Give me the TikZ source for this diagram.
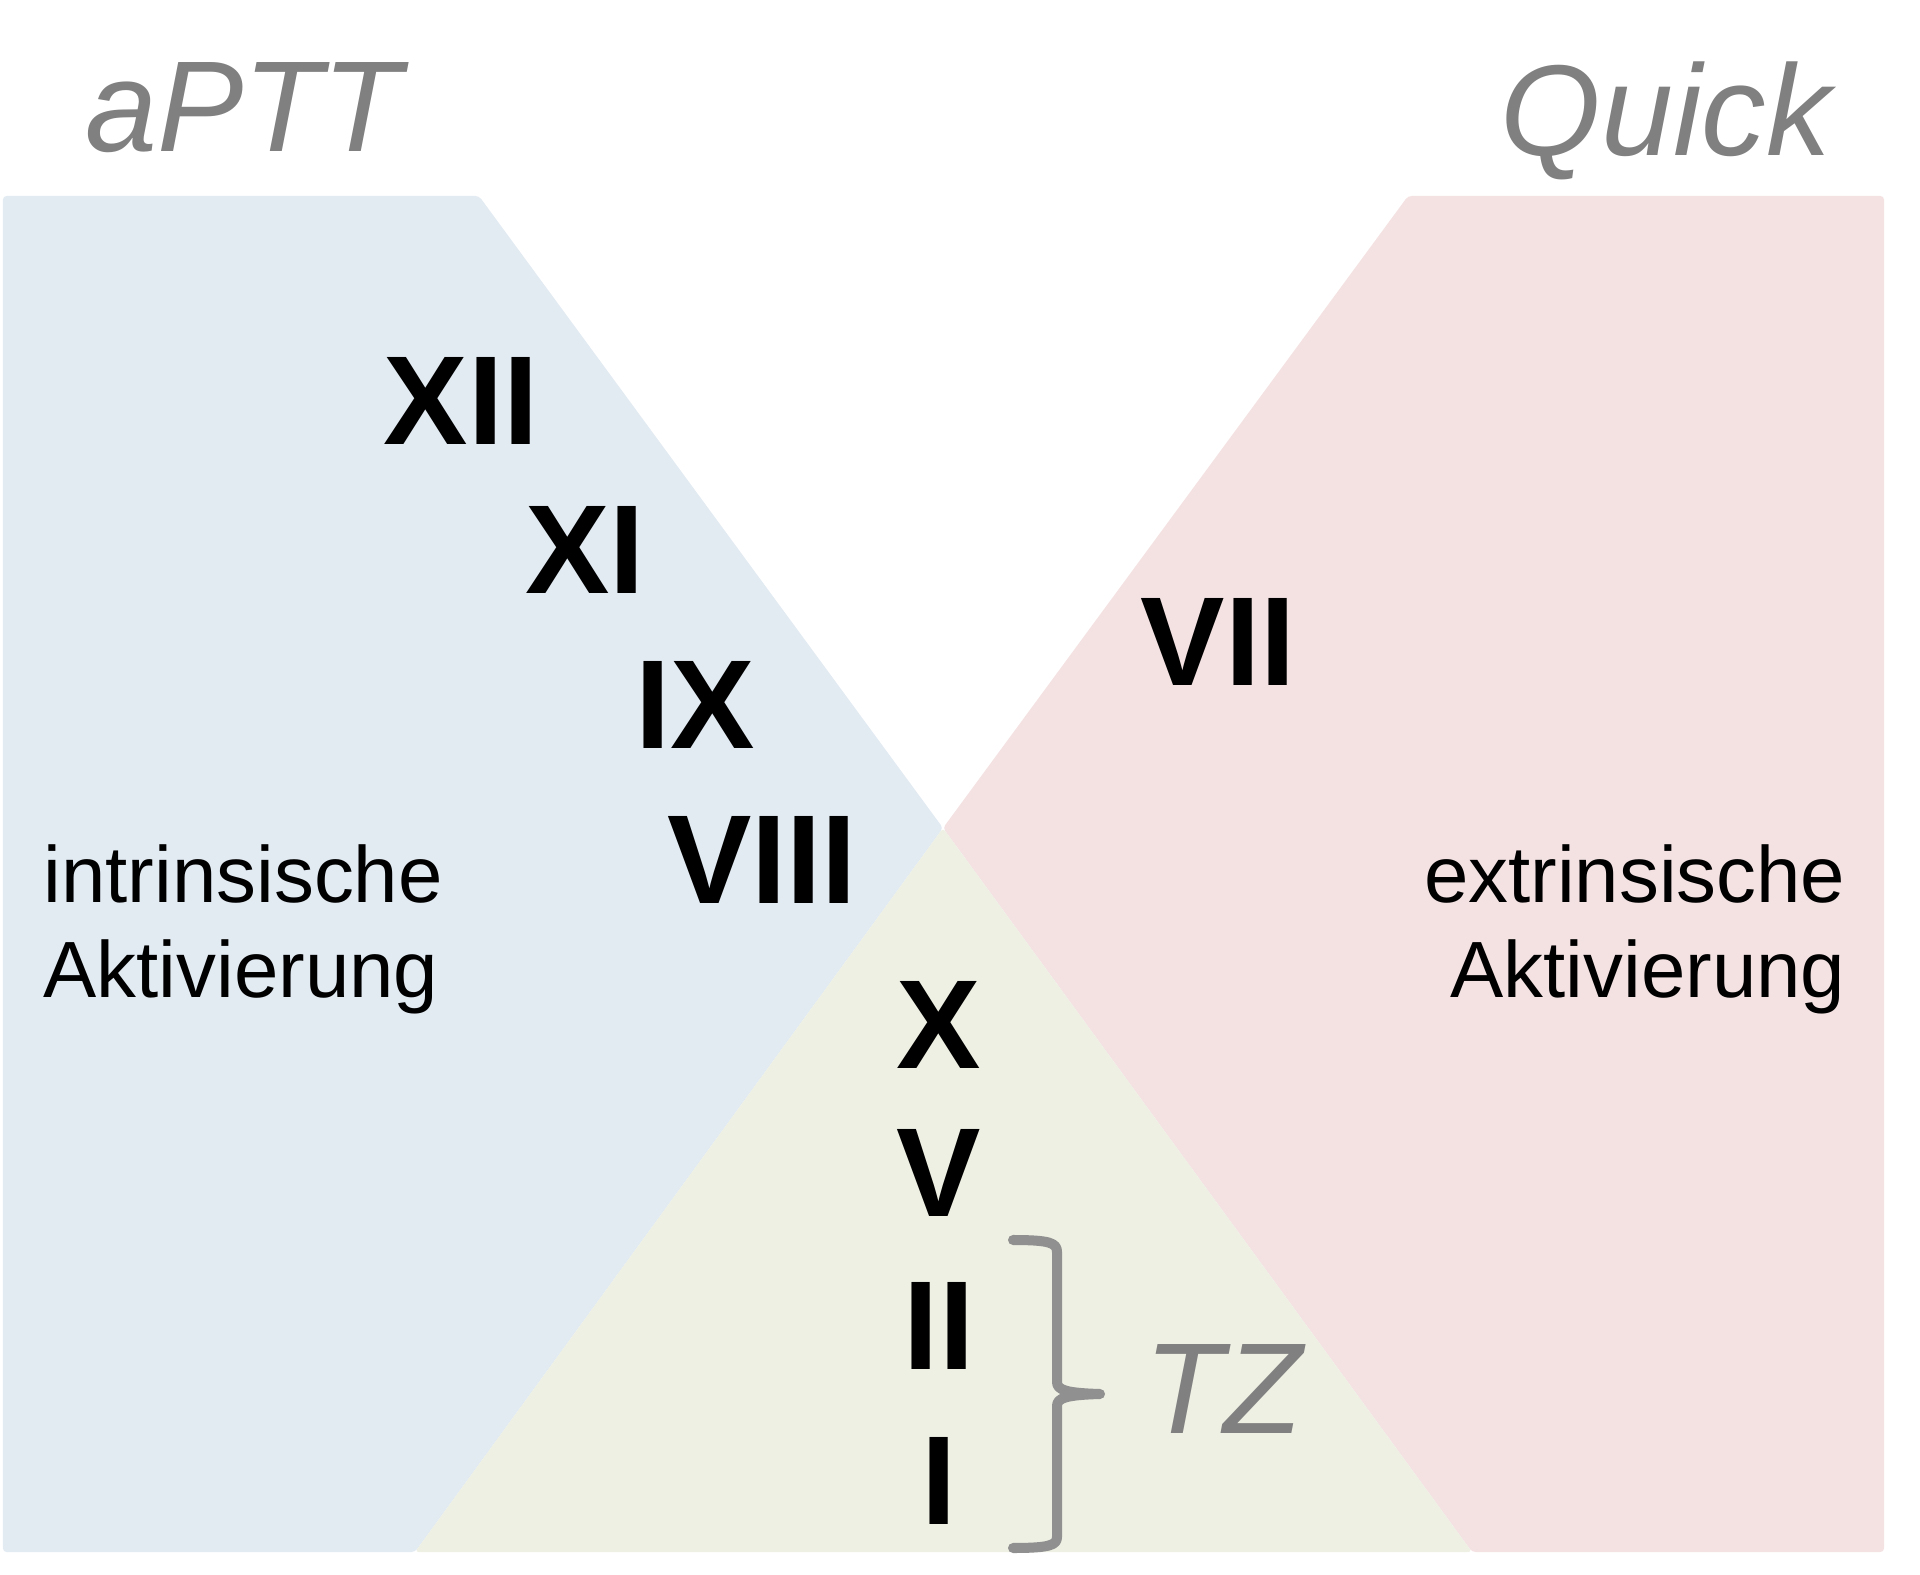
\documentclass[tikz,border=0pt]{standalone}
\usepackage{fontspec}
\setmainfont{Liberation Sans}
\definecolor{intrinsisch}{HTML}{E2EAF2}
\definecolor{extrinsisch}{HTML}{F4E2E3}
\definecolor{gemeinsam}{HTML}{EDF0E3}
\definecolor{testgrau}{HTML}{808080}
\definecolor{klammergrau}{HTML}{909090}
\tikzset{
  faktor/.style={font=\fontsize{36}{42}\selectfont\bfseries, anchor=base, inner sep=0pt},
  testname/.style={font=\fontsize{36.8}{42}\selectfont\itshape, text=testgrau, inner sep=0pt},
  weg/.style={font=\fontsize{22.7}{27}\selectfont, inner sep=0pt},
}
\begin{document}
\begin{tikzpicture}[x=0.1mm, y=-0.1mm]
    % Marco de la imagen
    \useasboundingbox (0,0) rectangle (1920,1575);

    % Zonas de fondo
    \fill[intrinsisch, rounded corners=1pt] (3,196) -- (479,196) -- (943,828) -- (415,1552) -- (3,1552) -- cycle;
    \fill[extrinsisch, rounded corners=1pt] (1408,196) -- (1884,196) -- (1884,1552) -- (1472,1552) -- (943,828) -- cycle;
    \fill[gemeinsam, rounded corners=1pt] (943,828) -- (1472,1552) -- (415,1552) -- cycle;

    % Nombres de las pruebas
    \node[testname, anchor=base west] (aptt) at (85,152) {aPTT};
    \node[testname, anchor=base east] (quick) at (1832,156) {Quick};

    % Via intrinseca
    \node[faktor] (f12) at (461,445) {XII};
    \node[faktor] (f11) at (585,594) {XI};
    \node[faktor] (f9) at (695,748) {IX};
    \node[faktor] (f8) at (762,903) {VIII};

    % Via extrinseca
    \node[faktor] (f7) at (1218,686) {VII};

    % Via comun
    \node[faktor] (f10) at (939,1068) {X};
    \node[faktor] (f5) at (939,1216) {V};
    \node[faktor] (f2) at (939,1369) {II};
    \node[faktor] (f1) at (939,1524) {I};

    % Textos laterales
    \node[weg, anchor=base west] (intr) at (43,902) {intrinsische};
    \node[weg, anchor=base west] (intrakt) at (43,997) {Aktivierung};
    \node[weg, anchor=base east] (extr) at (1846,902) {extrinsische};
    \node[weg, anchor=base east] (extrakt) at (1846,997) {Aktivierung};

    % Llave y tiempo de trombina
    \draw[klammergrau, line width=2.85pt, line cap=round, line join=round]
      (1013,1240) .. controls (1050,1240) and (1057,1243) .. (1057,1252)
      -- (1057,1382) .. controls (1057,1390) and (1066,1393) .. (1100,1394)
      .. controls (1066,1395) and (1057,1398) .. (1057,1406)
      -- (1057,1537) .. controls (1057,1545) and (1050,1548) .. (1013,1548);
    \node[testname, anchor=base west] (tz) at (1144,1433) {TZ};

\end{tikzpicture}
\end{document}
